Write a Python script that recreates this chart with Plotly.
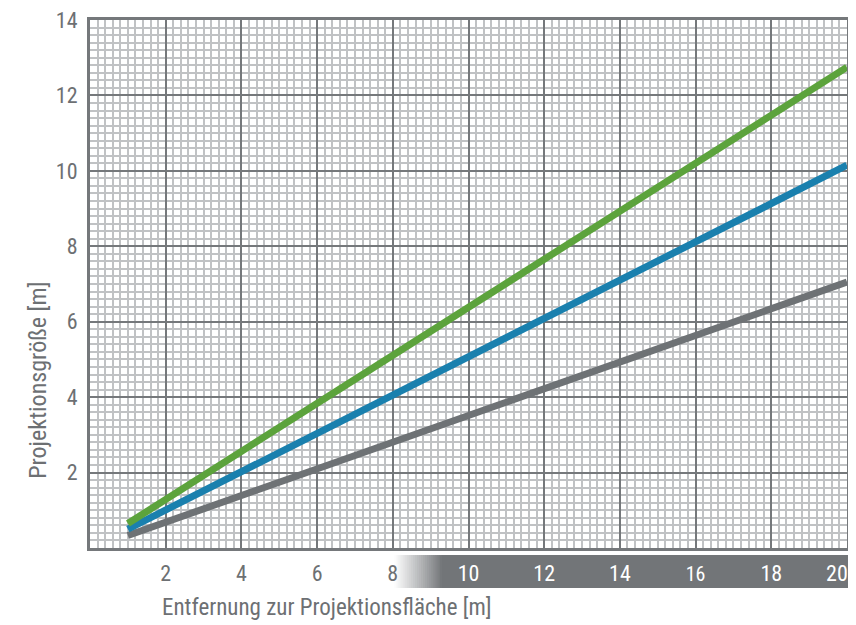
import plotly.graph_objects as go

# Data
distance_m = [1, 10, 20]
size_green = [0.65, 6.38, 12.75]
size_blue = [0.50, 5.07, 10.15]
size_gray = [0.33, 3.53, 7.05]

x_tick_vals = [2, 4, 6, 8, 10, 12, 14, 16, 18, 20]
x_tick_labels = ["2", "4", "6", "8", "10", "12", "14", "16", "18", "20"]
y_tick_vals = [2, 4, 6, 8, 10, 12, 14]
y_tick_labels = ["2", "4", "6", "8", "10", "12", "14"]

x_title = "Entfernung zur Projektionsfläche [m]"
y_title = "Projektionsgröße [m]"

FONT = "Liberation Sans Narrow, Roboto Condensed, Roboto, sans-serif"
TXT = "#6d7073"
MAJOR = "#75787b"
MINOR = "#c0c2c4"
BAND = "#727578"

fig = go.Figure()
for vals, col in [(size_gray, "#6e7275"), (size_blue, "#1a80ae"), (size_green, "#5ca33c")]:
    fig.add_trace(go.Scatter(x=distance_m, y=vals, mode="lines",
                             line=dict(color=col, width=7), showlegend=False,
                             hoverinfo="skip"))

# white labels on the dark band; the last label sits left of its tick as in the original
ticktext = []
for v, t in zip(x_tick_vals, x_tick_labels):
    if v >= 10:
        s = t
        if v == 16:
            s = '<span style="font-size:20px">%s</span>' % t
        if v == x_tick_vals[-1]:
            s = t + "\u00a0\u00a0\u00a0\u00a0"
        ticktext.append('<span style="color:#ffffff">%s</span>' % s)
    else:
        ticktext.append(t)

shapes = []
# gradient band below the x axis (paper coords)
y0b, y1b = -0.0133, -0.0758
g0, g1 = 0.402, 0.465
n = 24
def mix(a, b, t):
    return int(round(a + (b - a) * t))
br, bg_, bb = 0x72, 0x75, 0x78
for i in range(n):
    t = (i + 0.5) / n
    c = "rgb(%d,%d,%d)" % (mix(255, br, t), mix(255, bg_, t), mix(255, bb, t))
    shapes.append(dict(type="rect", xref="paper", yref="paper",
                       x0=g0 + (g1 - g0) * i / n, x1=g0 + (g1 - g0) * (i + 1) / n + 0.0005,
                       y0=y0b, y1=y1b, fillcolor=c, line=dict(width=0), layer="below"))
shapes.append(dict(type="rect", xref="paper", yref="paper", x0=g1, x1=1.03,
                   y0=y0b, y1=y1b, fillcolor=BAND, line=dict(width=0), layer="below"))

# the page adds an 8px body margin, so the figure is offset to compensate
fig.update_layout(
    width=856, height=617,
    margin=dict(l=82, r=17, t=12, b=77, autoexpand=False),
    paper_bgcolor="white", plot_bgcolor="white",
    font=dict(family=FONT, color=TXT, size=20),
    shapes=shapes,
    xaxis=dict(range=[0, 20], tickmode="array", tickvals=x_tick_vals, ticktext=ticktext,
               showgrid=True, gridcolor=MAJOR, gridwidth=2,
               minor=dict(dtick=0.2, showgrid=True, gridcolor=MINOR, gridwidth=1.5),
               showline=True, mirror=True, linecolor=MAJOR, linewidth=3,
               zeroline=False, ticks="", ticklabelstandoff=4, automargin=False,
               ticklabeloverflow="allow",
               tickfont=dict(family=FONT, size=22, color=TXT)),
    yaxis=dict(range=[0, 14], tickmode="array", tickvals=y_tick_vals, ticktext=y_tick_labels,
               showgrid=True, gridcolor=MAJOR, gridwidth=2,
               minor=dict(dtick=0.2, showgrid=True, gridcolor=MINOR, gridwidth=1.5),
               showline=True, mirror=True, linecolor=MAJOR, linewidth=3,
               zeroline=False, ticks="", ticklabelstandoff=5, automargin=False,
               ticklabeloverflow="allow",
               tickfont=dict(family=FONT, size=22, color=TXT)),
    annotations=[
        dict(text=x_title, xref="paper", yref="paper", x=0.0925, y=-0.112,
             xanchor="left", yanchor="middle", showarrow=False,
             font=dict(family=FONT, size=23, color=TXT)),
        dict(text=y_title, xref="paper", yref="paper", x=-0.069, y=0.318,
             xanchor="center", yanchor="middle", textangle=-90, showarrow=False,
             font=dict(family=FONT, size=24, color=TXT)),
    ],
)

fig.write_html("out.html")
